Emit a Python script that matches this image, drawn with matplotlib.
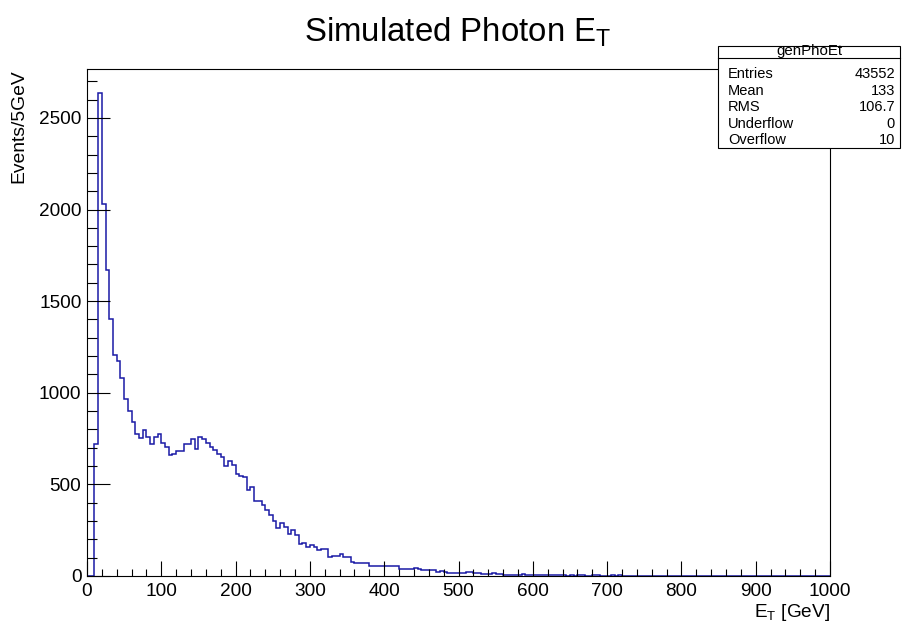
import numpy as np
import matplotlib
matplotlib.use("Agg")
import matplotlib.pyplot as plt
from matplotlib.ticker import MultipleLocator
from matplotlib.patches import Rectangle
from matplotlib.lines import Line2D

plt.rcParams["font.family"] = ["Liberation Sans", "DejaVu Sans"]
plt.rcParams["mathtext.fontset"] = "custom"
plt.rcParams["mathtext.rm"] = "Liberation Sans"
plt.rcParams["mathtext.it"] = "Liberation Sans:italic"

# ---------- data ----------
bin_edges = np.arange(0, 1005, 5)

# events per 5 GeV bin, 0-5 ... 715-720; bins above 720 are empty
counts_low = [
    0, 0, 720, 2635, 2030, 1670, 1400, 1205, 1175, 1080,            # 0-50
    965, 900, 840, 775, 755, 795, 760, 720, 760, 775,               # 50-100
    725, 705, 660, 665, 680, 680, 720, 722, 745, 692,               # 100-150
    760, 745, 724, 706, 688, 664, 651, 600, 628, 605,               # 150-200
    555, 546, 539, 469, 484, 411, 410, 388, 360, 333,               # 200-250
    302, 264, 291, 266, 228, 251, 224, 173, 179, 160,               # 250-300
    169, 160, 142, 150, 145, 105, 108, 109, 120, 105,               # 300-350
    103, 75, 73, 73, 73, 72, 55, 55, 55, 55,                        # 350-400
    54, 53, 55, 52, 38, 37, 38, 36, 45, 40,                         # 400-450
    33, 34, 32, 33, 24, 25, 22, 18, 18, 17,                         # 450-500
    19, 18, 24, 22, 15, 14, 11, 10, 12, 18,                         # 500-550
    11, 10, 8, 6, 6, 5, 5, 10, 6, 4,                                # 550-600
    4, 3, 7, 7, 4, 3, 6, 6, 3, 2,                                   # 600-650
    5, 2, 3, 5, 2, 1, 4, 4, 0, 0,                                   # 650-700
    0, 3, 0, 3,                                                     # 700-720
]
counts = np.array(counts_low + [0] * (len(bin_edges) - 1 - len(counts_low)), float)

stats_name = "genPhoEt"
stats_labels = ["Entries", "Mean", "RMS", "Underflow", "Overflow"]
stats_values = ["43552", "133", "106.7", "0", "10"]

# ---------- figure ----------
W, H = 902, 627
fig = plt.figure(figsize=(W / 100, H / 100), dpi=100)
fig.patch.set_facecolor("white")

# frame in pixel coords: x 87..830, y 69..576
ax = fig.add_axes([87 / W, 1 - 576 / H, (830 - 87) / W, (576 - 69) / H])
ax.stairs(counts, bin_edges, color="#1a1aa6", lw=1.1)

ax.set_xlim(0, 1000)
ax.set_ylim(0, 1.05 * counts.max())

ax.xaxis.set_major_locator(MultipleLocator(100))
ax.xaxis.set_minor_locator(MultipleLocator(20))
ax.yaxis.set_major_locator(MultipleLocator(500))
ax.yaxis.set_minor_locator(MultipleLocator(100))

ax.tick_params(which="both", direction="in", top=False, right=False,
               width=0.8, labelsize=13.7, colors="black")
ax.tick_params(axis="x", which="major", length=10.5, pad=5)
ax.tick_params(axis="x", which="minor", length=5.3)
ax.tick_params(axis="y", which="major", length=16.5, pad=4)
ax.tick_params(axis="y", which="minor", length=7.5)
for sp in ax.spines.values():
    sp.set_linewidth(0.8)

# titles, ROOT style placement
fig.text(458 / W, 1 - 42 / H, r"Simulated Photon E$_\mathrm{T}$",
         fontsize=23.8, ha="center", va="baseline")
fig.text(830 / W, 1 - 617 / H, r"E$_\mathrm{T}$ [GeV]",
         fontsize=13.7, ha="right", va="baseline")
fig.text(18.5 / W, 1 - 69 / H, "Events/5GeV", fontsize=13.9,
         rotation=90, ha="center", va="top")

# ---------- stats box ----------
bx0, bx1, by0, by1 = 718, 900, 46, 148
fig.add_artist(Rectangle((bx0 / W, 1 - by1 / H), (bx1 - bx0) / W, (by1 - by0) / H,
                         transform=fig.transFigure, facecolor="white",
                         edgecolor="black", lw=0.8, zorder=5))
fig.add_artist(Line2D([bx0 / W, bx1 / W], [1 - 58 / H, 1 - 58 / H],
                      transform=fig.transFigure, color="black", lw=0.8, zorder=6))
fig.text((bx0 + bx1) / 2 / W, 1 - 55 / H, stats_name, fontsize=10.8,
         ha="center", va="baseline", zorder=7)
for i, (lab, val) in enumerate(zip(stats_labels, stats_values)):
    yb = 1 - (78 + 16.6 * i) / H
    fig.text(728 / W, yb, lab, fontsize=10.5, ha="left", va="baseline", zorder=7)
    fig.text(895 / W, yb, val, fontsize=10.5, ha="right", va="baseline", zorder=7)

fig.savefig("out.png", dpi=100)
